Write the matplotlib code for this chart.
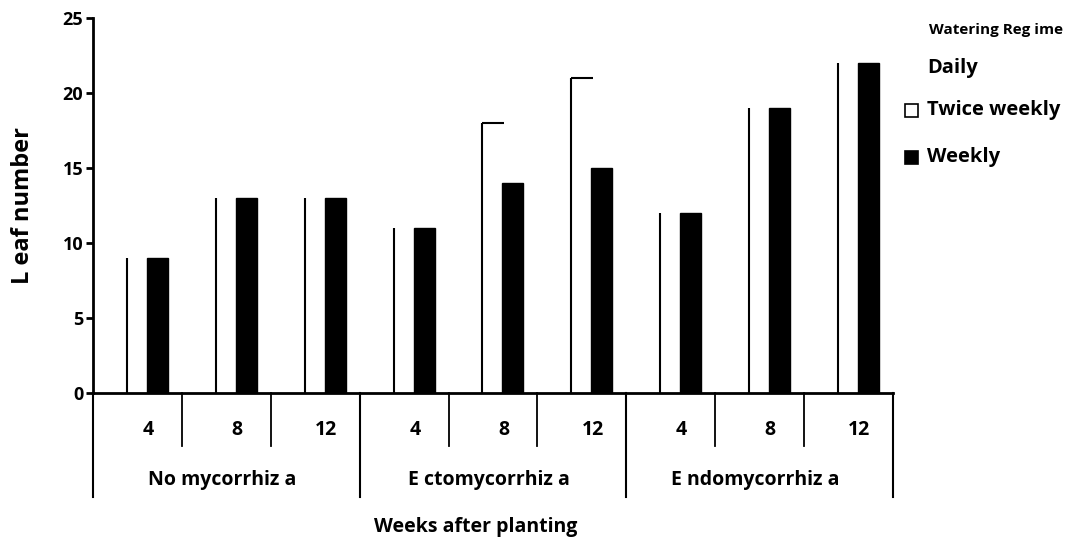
import matplotlib.pyplot as plt
from matplotlib.patches import Rectangle
import matplotlib.transforms as mtransforms

plt.rcParams['font.family'] = ['Open Sans', 'DejaVu Sans']
plt.rcParams['font.weight'] = 'bold'

groups = ['No mycorrhiz a', 'E ctomycorrhiz a', 'E ndomycorrhiz a']
weeks = ['4', '8', '12']
twice_weekly = [9, 13, 13, 11, 18, 21, 12, 19, 22]
weekly = [9, 13, 13, 11, 14, 15, 12, 19, 22]
legend_labels = ['Daily', 'Twice weekly', 'Weekly']

fig = plt.figure(figsize=(10.71, 5.41), dpi=100)
ax = fig.add_axes([0.0868, 0.2736, 0.747, 0.693])

n = len(weekly)
x = list(range(n))
tw_left = [i + 0.382 for i in x]
wk_left = [i + 0.607 for i in x]

# twice weekly: white bars, only left edge (and top where taller) visible
ax.bar(tw_left, twice_weekly, width=0.24, align='edge', color='white', edgecolor='none')
ax.vlines(tw_left, 0, twice_weekly, color='black', lw=1.5)
for xl, tv, wv in zip(tw_left, twice_weekly, weekly):
    if tv > wv:
        ax.hlines(tv, xl, xl + 0.247, color='black', lw=1.5)
ax.bar(wk_left, weekly, width=0.236, align='edge', color='black', edgecolor='black')

ax.set_xlim(0, n)
ax.set_ylim(0, 25)
ax.set_yticks([0, 5, 10, 15, 20, 25])
ax.tick_params(axis='y', direction='out', length=5, width=2, labelsize=13, pad=2)
ax.set_xticks([])
for side in ['top', 'right']:
    ax.spines[side].set_visible(False)
ax.spines['left'].set_linewidth(2)
ax.spines['bottom'].set_linewidth(2)
for lab in ax.get_yticklabels():
    lab.set_fontweight('bold')

ax.set_ylabel('L eaf number', fontsize=17, fontweight='bold', labelpad=20)

trans = mtransforms.blended_transform_factory(ax.transData, ax.transAxes)
# week dividers
for i in range(1, n):
    if i % 3 != 0:
        ax.plot([i, i], [0, -0.141], color='black', lw=1.3, transform=trans, clip_on=False)
# group dividers
for i in range(0, n + 1, 3):
    ax.plot([i, i], [0, -0.277], color='black', lw=1.5, transform=trans, clip_on=False)

for i in range(n):
    ax.text(i + 0.62, -0.099, weeks[i % 3], transform=trans, ha='center', va='center',
            fontsize=14, fontweight='bold')
for g, name in enumerate(groups):
    ax.text(g * 3 + 1.45, -0.232, name, transform=trans, ha='center', va='center',
            fontsize=14, fontweight='bold')
ax.text(4.3, -0.357, 'Weeks after planting', transform=trans, ha='center', va='center',
        fontsize=14, fontweight='bold')

# legend
fig.text(0.867, 0.944, 'Watering Reg ime', fontsize=11, fontweight='bold', va='center')
ys = [0.874, 0.796, 0.709]
for lab, y in zip(legend_labels, ys):
    fig.text(0.866, y, lab, fontsize=14.5, fontweight='bold', va='center')
fig.patches.append(Rectangle((0.845, ys[1] - 0.012), 0.012, 0.024, transform=fig.transFigure,
                             facecolor='white', edgecolor='black', lw=1.2))
fig.patches.append(Rectangle((0.845, ys[2] - 0.012), 0.012, 0.024, transform=fig.transFigure,
                             facecolor='black', edgecolor='black', lw=1.2))

fig.savefig('out.png', dpi=100)
